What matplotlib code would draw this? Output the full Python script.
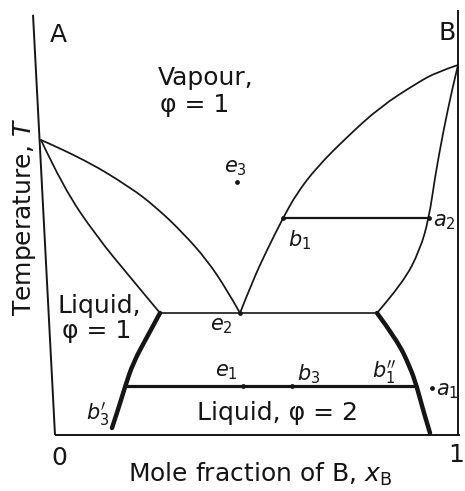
import matplotlib
matplotlib.use("Agg")
import matplotlib.pyplot as plt
from matplotlib.path import Path
from matplotlib.patches import PathPatch

plt.rcParams['font.family'] = ['DejaVu Sans']
plt.rcParams['mathtext.fontset'] = 'dejavusans'

# Mole fraction of B (x) and temperature (arbitrary units, T) along each boundary
dew_A_x = [0.0024, 0.0957, 0.2153, 0.2799, 0.3421, 0.3995, 0.4474, 0.4785]
dew_A_T = [0.6909, 0.6511, 0.5808, 0.5316, 0.4731, 0.4098, 0.3396, 0.2857]

bubble_A_x = [0.0024, 0.0550, 0.1364, 0.2153, 0.2871]
bubble_A_T = [0.6909, 0.5808, 0.4637, 0.3700, 0.2857]

dew_B_x = [1.0000, 0.9498, 0.9019, 0.8134, 0.7344, 0.6627, 0.6148, 0.5813, 0.5431, 0.5096, 0.4785]
dew_B_T = [0.8665, 0.8501, 0.8244, 0.7681, 0.6979, 0.6276, 0.5667, 0.5082, 0.4333, 0.3630, 0.2857]

bubble_B_x = [1.0000, 0.9856, 0.9641, 0.9450, 0.9306, 0.9091, 0.8684, 0.8062]
bubble_B_T = [0.8665, 0.8080, 0.7073, 0.6042, 0.5082, 0.4333, 0.3560, 0.2857]

# liquid-liquid solubility limits
sol_left_x = [0.2871, 0.2560, 0.2225, 0.2033, 0.1842, 0.1722]
sol_left_T = [0.2857, 0.2295, 0.1686, 0.1124, 0.0515, 0.0164]
sol_right_x = [0.8062, 0.8541, 0.8852, 0.9019, 0.9163, 0.9330]
sol_right_T = [0.2857, 0.2225, 0.1593, 0.1124, 0.0585, 0.0047]

# heteroazeotrope line and tie lines
hetero_T = 0.2857
hetero_x = [0.2871, 0.8062]
tie_upper_T = 0.5082
tie_upper_x = [0.5813, 0.9306]
tie_lower_T = 0.1148
tie_lower_x = [0.2050, 0.9000]

# labelled state points
point_names = ['e3', 'b1', 'a2', 'e2', 'e1', 'b3', 'a1']
point_x = [0.4713, 0.5813, 0.9306, 0.4785, 0.4856, 0.6029, 0.9378]
point_T = [0.5925, 0.5082, 0.5082, 0.2857, 0.1148, 0.1148, 0.1101]

ink = '#151515'


def smooth_curve(xs, ys):
    """Quadratic B-spline path: starts and ends at the given end points and
    follows the interior points as control points."""
    verts = [(xs[0], ys[0])]
    codes = [Path.MOVETO]
    n = len(xs)
    for i in range(1, n - 1):
        if i < n - 2:
            end = ((xs[i] + xs[i + 1]) / 2, (ys[i] + ys[i + 1]) / 2)
        else:
            end = (xs[-1], ys[-1])
        verts += [(xs[i], ys[i]), end]
        codes += [Path.CURVE3, Path.CURVE3]
    return Path(verts, codes)


fig = plt.figure(figsize=(4.65, 4.91), dpi=100)
ax = fig.add_axes([0, 0, 1, 1])
ax.set_xlim(-40 / 418, 425 / 418)
ax.set_ylim(-56 / 427, 435 / 427)
ax.axis('off')

# frame
frame = dict(color=ink, lw=1.4, solid_capstyle='butt')
ax.plot([-0.0167, 0.0359], [0.984, 0.0], **frame)
ax.plot([1.0, 1.0], [0.995, 0.0], **frame)
ax.plot([0.0359, 1.0048], [0.0, 0.0], **frame)

# vapour-liquid boundaries
for xs, ys in [(dew_A_x, dew_A_T), (bubble_A_x, bubble_A_T),
               (dew_B_x, dew_B_T), (bubble_B_x, bubble_B_T)]:
    ax.add_patch(PathPatch(smooth_curve(xs, ys), fill=False, edgecolor=ink,
                           lw=1.25, capstyle='round', joinstyle='round'))

ax.plot(hetero_x, [hetero_T] * 2, color=ink, lw=1.2)
ax.plot(tie_upper_x, [tie_upper_T] * 2, color=ink, lw=1.6)

# liquid-liquid boundaries
for xs, ys in [(sol_left_x, sol_left_T), (sol_right_x, sol_right_T)]:
    ax.add_patch(PathPatch(smooth_curve(xs, ys), fill=False, edgecolor=ink,
                           lw=3.2, capstyle='round', joinstyle='round'))
ax.plot(tie_lower_x, [tie_lower_T] * 2, color=ink, lw=2.3)

ax.scatter(point_x, point_T, s=12, color=ink, zorder=5, linewidths=0)

# phase region labels
big = 18
ax.text(0.043, 0.937, 'A', fontsize=big, ha='center', va='center', color=ink)
ax.text(0.974, 0.941, 'B', fontsize=big, ha='center', va='center', color=ink)
ax.text(0.282, 0.836, 'Vapour,', fontsize=big, ha='left', va='center', color=ink)
ax.text(0.287, 0.773, 'φ = 1', fontsize=big, ha='left', va='center', color=ink)
ax.text(0.043, 0.302, 'Liquid,', fontsize=big, ha='left', va='center', color=ink)
ax.text(0.053, 0.2436, 'φ = 1', fontsize=big, ha='left', va='center', color=ink)
ax.text(0.567, 0.0515, 'Liquid, φ = 2', fontsize=big, ha='center', va='center', color=ink)

# point labels
small = 15
ax.text(0.4665, 0.625, r'$e_3$', fontsize=small, ha='center', va='center', color=ink)
ax.text(0.622, 0.4567, r'$b_1$', fontsize=small, ha='center', va='center', color=ink)
ax.text(0.9665, 0.4988, r'$a_2$', fontsize=small, ha='center', va='center', color=ink)
ax.text(0.435, 0.255, r'$e_2$', fontsize=small, ha='center', va='center', color=ink)
ax.text(0.447, 0.1475, r'$e_1$', fontsize=small, ha='center', va='center', color=ink)
ax.text(0.6435, 0.1429, r'$b_3$', fontsize=small, ha='center', va='center', color=ink)
ax.text(0.823, 0.1475, r"$b_1''$", fontsize=small, ha='center', va='center', color=ink)
ax.text(0.139, 0.049, r"$b_3'$", fontsize=small, ha='center', va='center', color=ink)
ax.text(0.974, 0.103, r'$a_1$', fontsize=small, ha='center', va='center', color=ink)

# axis labels
ax.text(0.0455, -0.0539, '0', fontsize=big, ha='center', va='center', color=ink)
ax.text(1.0142, -0.0468, '1', fontsize=big, ha='right', va='center', color=ink)
ax.text(0.2105, -0.0913, r'Mole fraction of B, $x_\mathrm{B}$', fontsize=big,
        ha='left', va='center', color=ink)
ax.text(-0.0359, 0.5105, r'Temperature, $T$', fontsize=big, rotation=90,
        ha='center', va='center', color=ink)

fig.savefig('out.png', dpi=100, facecolor='white')
